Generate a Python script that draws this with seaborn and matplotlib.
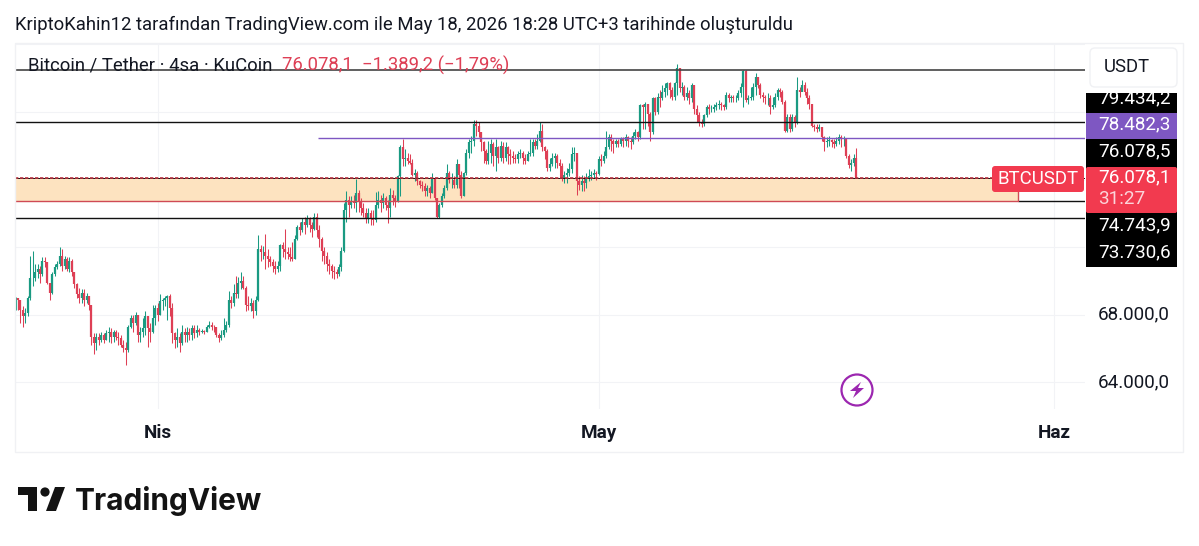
"""
BTC/USDT 4h candles with support and resistance levels
"""
import matplotlib.pyplot as plt
import matplotlib.patches as mpatches
import pandas as pd
import seaborn as sns

# Candle values
first_open = 68250
closes = [
    69000, 68900, 68300, 67900, 68100, 69000, 70200, 70200, 70500, 70700,
    70400, 71200, 71100, 69900, 69300, 70400, 70800, 71000, 71500, 70900,
    71300, 70700, 71200, 70500, 69800, 69200, 69000, 69300, 68900, 69100,
    68600, 66700, 66300, 66700, 66500, 66800, 66500, 66900, 67000, 66700,
    67000, 66700, 66600, 66200, 66000, 65900, 67300, 67800, 67500, 68000,
    66800, 67000, 67200, 67900, 67200, 67000, 67800, 68400, 68000, 68800,
    68900, 69000, 69100, 68400, 66900, 66500, 66700, 66300, 67000, 66800,
    67000, 66800, 67200, 66900, 67100, 67000, 67050, 66950, 67250, 67400,
    67300, 67250, 66800, 66600, 66800, 67100, 67400, 68900, 68700, 69300,
    69200, 69900, 70000, 69600, 68600, 68500, 68700, 68200, 68900, 71900,
    71700, 71700, 71500, 71300, 71100, 70900, 70700, 70900, 72100, 71900,
    71700, 71600, 71400, 71300, 72500, 73200, 73000, 73500, 73300, 73700,
    73300, 73100, 73800, 73000, 72500, 71800, 71500, 71000, 70900, 70600,
    70500, 70400, 70800, 71800, 74200, 74800, 74500, 74700, 74600, 75200,
    74700, 74300, 74000, 73700, 74000, 73700, 73600, 74500, 74800, 74600,
    74900, 74500, 74300, 75100, 74900, 74700, 76200, 77900, 77200, 77300,
    77100, 77000, 76300, 76400, 75900, 75700, 75600, 75300, 75500, 75200,
    76100, 74900, 73800, 74500, 75000, 75500, 76400, 76000, 76000, 75700,
    76900, 76300, 75000, 76400, 77600, 78200, 78300, 79300, 79200, 78800,
    78200, 77700, 77100, 77600, 78100, 77400, 77900, 77300, 78000, 77300,
    77900, 77500, 77400, 77300, 77200, 77500, 77600, 77300, 77100, 77500,
    77600, 78200, 78000, 78300, 78900, 77900, 77700, 76700, 76900, 77300,
    77400, 77000, 76800, 76100, 76300, 76400, 76600, 77500, 77600, 75900,
    75700, 75900, 75800, 76100, 76200, 76300, 76400, 76350, 77200, 77100,
    77400, 77900, 78500, 78300, 78100, 78300, 78100, 78400, 78300, 78500,
    78300, 78200, 78600, 78800, 78500, 80400, 80300, 80500, 79900, 78800,
    80800, 80000, 80900, 80800, 81200, 81400, 81700, 81300, 80900, 81700,
    82600, 81400, 81500, 80900, 81100, 80800, 81600, 80200, 79800, 79400,
    79300, 79800, 80300, 80200, 80200, 80300, 80400, 80500, 80400, 80300,
    81000, 80800, 80900, 80800, 80800, 81100, 81500, 82400, 80700, 80800,
    80900, 81500, 82100, 81600, 81000, 80900, 80800, 80800, 80300, 80400,
    80900, 81300, 81200, 80600, 78900, 79700, 79000, 79700, 79400, 81300,
    81200, 81600, 81200, 80800, 80500, 79200, 79100, 79000, 79100, 78500,
    78200, 78300, 78350, 78200, 78100, 78300, 78500, 78400, 78400, 77400,
    76850, 77000, 77300, 76078,
]
highs = [
    69050, 69000, 68900, 68500, 68400, 69100, 71500, 71800, 71000, 71000,
    70900, 71400, 71400, 71100, 69900, 70500, 71000, 71200, 72000, 71900,
    71500, 71400, 71400, 71300, 70500, 69900, 69600, 69500, 69500, 69300,
    69000, 68600, 66900, 66900, 66900, 67000, 66900, 67100, 67300, 67200,
    67100, 67100, 67000, 66800, 66500, 66400, 67400, 68000, 68000, 68150,
    68000, 67300, 67800, 68200, 67900, 67500, 68600, 68600, 68700, 69250,
    69000, 69100, 69150, 69200, 68700, 67000, 67200, 66900, 67400, 67200,
    67300, 67200, 67400, 67400, 67400, 67200, 67150, 67100, 67400, 67600,
    67550, 67400, 67300, 66900, 67100, 67800, 67600, 69400, 69100, 69800,
    70300, 70250, 70500, 70300, 69700, 69100, 69000, 68900, 69100, 72700,
    72100, 72050, 72800, 71900, 71500, 71300, 71200, 71200, 72200, 72300,
    73100, 72000, 72000, 72300, 72700, 73300, 73500, 73700, 73800, 73900,
    73800, 73500, 74000, 74000, 73300, 72600, 72000, 71700, 71300, 71000,
    70900, 70700, 71000, 72000, 74600, 75300, 75000, 75000, 75100, 76050,
    75400, 74900, 74600, 74300, 74300, 74200, 74200, 75250, 75300, 75100,
    75200, 75000, 74800, 75500, 75400, 75100, 76300, 78050, 78420, 77800,
    77600, 77500, 77200, 76600, 76500, 76000, 75900, 75800, 75700, 75600,
    76400, 76100, 74900, 74600, 75200, 75700, 76900, 76500, 76400, 76200,
    77200, 76900, 76500, 76450, 77800, 78400, 78600, 79500, 79500, 79400,
    78800, 78300, 77800, 78300, 78400, 78200, 78400, 78000, 78300, 78200,
    78200, 78000, 77800, 77700, 77500, 77700, 77800, 77700, 77500, 77700,
    78400, 78400, 78400, 78700, 79400, 79300, 78000, 77800, 77300, 77600,
    77600, 77500, 77200, 77000, 76500, 76700, 77000, 77900, 77900, 77500,
    76200, 76300, 76200, 76400, 76600, 76500, 76600, 76500, 77400, 77500,
    77700, 78900, 78700, 78700, 78400, 78400, 78400, 78500, 78500, 78700,
    78600, 78500, 78800, 79000, 78900, 80500, 80500, 80600, 80500, 80000,
    80900, 80900, 81100, 81300, 81600, 81700, 81800, 81800, 81500, 81800,
    82860, 82600, 81800, 81600, 81500, 81300, 81700, 81600, 80400, 80000,
    79600, 79900, 80400, 80500, 80400, 80500, 80600, 80700, 80600, 80500,
    81200, 81100, 81000, 81000, 81000, 81300, 81700, 82500, 82500, 81000,
    81500, 81700, 82300, 82100, 81700, 81200, 81000, 81100, 81000, 80900,
    81100, 81400, 81400, 81300, 80700, 79900, 79900, 79900, 79800, 82050,
    81500, 81900, 81800, 81400, 81000, 80500, 79300, 79300, 79300, 79100,
    78600, 78500, 78600, 78400, 78400, 78500, 78700, 78650, 78600, 78400,
    77500, 77200, 77500, 77850,
]
lows = [
    68250, 68300, 67500, 67300, 67500, 67900, 68900, 69700, 70000, 70200,
    69900, 70300, 70800, 69800, 68900, 69200, 70300, 70700, 70900, 70600,
    70700, 70600, 70500, 70300, 69600, 69000, 68700, 68700, 68500, 68700,
    68300, 66200, 65700, 65900, 66200, 66400, 66300, 66500, 66400, 66300,
    66400, 66500, 66200, 66100, 65800, 65000, 65800, 67200, 67000, 67400,
    66400, 66400, 66700, 66800, 66100, 66400, 66900, 67400, 67600, 68000,
    68300, 68500, 67700, 67900, 66300, 66000, 66100, 65800, 66200, 66400,
    66400, 66500, 66500, 66600, 66700, 66800, 66900, 66850, 67000, 67200,
    67100, 67000, 66700, 66400, 66500, 66700, 67000, 67300, 68400, 68500,
    69000, 69000, 69500, 69500, 68200, 68300, 68200, 67800, 68000, 68800,
    71200, 71300, 70700, 70800, 70900, 70500, 70400, 70500, 70600, 71400,
    71300, 71300, 71200, 71200, 71300, 72400, 72700, 72900, 72800, 73200,
    72900, 72600, 73000, 72600, 72000, 71200, 71000, 70600, 70400, 70200,
    70100, 70200, 70300, 70600, 71700, 73500, 73800, 74300, 74300, 74100,
    74100, 73900, 73800, 73400, 73400, 73300, 73300, 73500, 74300, 74100,
    74300, 74200, 73400, 73800, 74500, 74400, 74700, 75000, 76800, 76800,
    76900, 76900, 76200, 75900, 75700, 75500, 75300, 75000, 75000, 74900,
    75200, 74800, 73700, 73750, 74400, 74900, 75400, 75800, 75500, 75500,
    75500, 75500, 74900, 75000, 76300, 77300, 77600, 78000, 78600, 78500,
    77700, 77000, 76900, 76900, 77000, 76800, 76500, 77000, 77100, 77000,
    77100, 76900, 76900, 77000, 77000, 77000, 77300, 76900, 76900, 77100,
    77400, 77400, 77800, 77800, 78200, 77700, 77200, 76500, 76500, 76800,
    76700, 76700, 76100, 75900, 75800, 75800, 76200, 76400, 77100, 75060,
    75400, 75300, 75300, 75500, 75900, 76000, 76100, 76000, 76300, 76800,
    77000, 77300, 77800, 77700, 77600, 77900, 77900, 78000, 77900, 78000,
    77900, 77800, 78100, 78400, 78300, 78400, 79000, 79000, 79200, 78300,
    78700, 79800, 79900, 80300, 80700, 80900, 81000, 80800, 80700, 80700,
    81000, 81200, 81000, 80700, 80700, 80500, 80600, 79900, 79400, 79200,
    79100, 79200, 79700, 79900, 80000, 80000, 80100, 80200, 80100, 80100,
    80200, 80600, 80600, 80600, 80600, 80700, 80900, 80300, 80600, 80500,
    80700, 80700, 81000, 81400, 80800, 80600, 80500, 80400, 79900, 80200,
    80300, 80700, 80900, 80500, 78800, 78800, 78800, 78900, 79100, 79300,
    80900, 81300, 81000, 80500, 80200, 79100, 78900, 78800, 78900, 78300,
    77700, 77900, 78000, 77900, 77850, 78000, 78100, 77900, 78000, 77300,
    76700, 76500, 76800, 76078,
]

# Levels drawn on the chart
top_level = 82480
black_level = 79434.2
purple_level = 78482.3
zone_high = 76078.5
zone_low = 74743.9
support_level = 73730.6

price_ticks = [64000, 68000, 72000, 76000, 80000, 84000]
price_labels = ['64.000,0', '68.000,0', '', '', '', '']
month_ticks = ['2026-04-01 03:00', '2026-05-01 03:00', '2026-06-01 03:00']
month_labels = ['Nis', 'May', 'Haz']

UP = '#1a9a82'
DOWN = '#de3f55'
PURPLE = '#7e57c2'
TEXT = '#131722'

sns.set_theme(style='white')
plt.rcParams['font.family'] = ['Roboto', 'DejaVu Sans']
plt.rcParams['lines.solid_capstyle'] = 'butt'

# Table for seaborn: one row per end of each stick
times = pd.date_range('2026-03-22 11:00', periods=len(closes), freq='4h')
opens = [first_open] + closes[:-1]
candles = pd.DataFrame({'t': times, 'open': opens, 'close': closes, 'high': highs, 'low': lows})
candles['direction'] = ['up' if c >= o else 'down' for c, o in zip(closes, opens)]

wicks = candles.melt(id_vars=['t', 'direction'], value_vars=['low', 'high'], value_name='price')
bodies = candles.melt(id_vars=['t', 'direction'], value_vars=['open', 'close'], value_name='price')

W, H = 1199, 546
fig = plt.figure(figsize=(W / 100, H / 100), dpi=100)

# Chart pane in pixels: x 15-1085, y 43-409
ax = fig.add_axes([15 / W, 1 - 409 / H, 1070 / W, 366 / H])
ax.patch.set_alpha(0)
left, right = pd.Timestamp('2026-03-22 10:10'), pd.Timestamp('2026-06-03 04:48')
zone_end = pd.Timestamp('2026-05-29 15:25')
purple_start = pd.Timestamp('2026-04-12 00:30')

ax.fill_between([left, zone_end], zone_low, zone_high, color='#fde3c0', lw=0, zorder=1)

palette = {'up': UP, 'down': DOWN}
sns.lineplot(data=wicks, x='t', y='price', units='t', estimator=None, hue='direction',
             palette=palette, linewidth=0.75, legend=False, sort=False, ax=ax, zorder=2)
sns.lineplot(data=bodies, x='t', y='price', units='t', estimator=None, hue='direction',
             palette=palette, linewidth=1.6, legend=False, sort=False, ax=ax, zorder=2)

# Horizontal levels
ax.plot([left, right], [top_level, top_level], color='#444444', lw=1.2, zorder=3)
ax.plot([left, right], [black_level, black_level], color='#111111', lw=1.0, zorder=3)
ax.plot([purple_start, right], [purple_level, purple_level], color=PURPLE, lw=1.0, zorder=3)
ax.plot([left, right], [zone_high, zone_high], color='#111111', lw=0.7, zorder=3)
ax.plot([left, zone_end], [zone_high, zone_high], color='#b8323f', lw=1.2, ls=(0, (2, 1)), zorder=3)
ax.plot([zone_end, right], [zone_low, zone_low], color='#111111', lw=1.0, zorder=3)
ax.plot([left, zone_end, zone_end], [zone_low, zone_low, zone_high], color='#cf4a55', lw=1.0, zorder=3)
ax.plot([left, right], [support_level, support_level], color='#111111', lw=1.0, zorder=3)

ax.set_xlim(left, right)
ax.set_ylim(62418, 84085)
ax.set_xticks(pd.to_datetime(month_ticks))
ax.set_xticklabels(month_labels, fontsize=13.6, fontweight='bold', color=TEXT)
ax.yaxis.tick_right()
ax.set_yticks(price_ticks)
ax.set_yticklabels(price_labels, fontsize=13.6, color=TEXT, va='center')
ax.tick_params(axis='x', length=0, pad=11)
ax.tick_params(axis='y', length=0, pad=9)
ax.set_xlabel('')
ax.set_ylabel('')
ax.grid(True, color='#f2f3f6', lw=0.8)
ax.set_axisbelow(True)
sns.despine(ax=ax, left=True, bottom=True, right=True, top=True)

# Overlay in pixel coordinates for everything outside the price scale
ov = fig.add_axes([0, 0, 1, 1], zorder=5)
ov.set_xlim(0, W)
ov.set_ylim(H, 0)
ov.axis('off')
ov.patch.set_alpha(0)

ov.add_patch(mpatches.Rectangle((15, 43), 1168, 409, fill=False, ec='#f0f1f4', lw=1))

ov.text(15, 25, 'KriptoKahin12 tarafından TradingView.com ile May 18, 2026 18:28 UTC+3 tarihinde oluşturuldu',
        fontsize=13.3, color=TEXT, va='center', ha='left')
ov.text(28, 65.5, 'Bitcoin / Tether · 4sa · KuCoin', fontsize=13.3, color=TEXT, va='center')
ov.text(282, 65.5, '76.078,1  −1.389,2 (−1,79%)', fontsize=13.3, color=DOWN, va='center')

# USDT box
ov.add_patch(mpatches.FancyBboxPatch((1092, 50), 83, 35, boxstyle='round,pad=2,rounding_size=5',
                                     fc='white', ec='#f0f1f4', lw=1))
ov.text(1127, 67.5, 'USDT', fontsize=13.3, color=TEXT, ha='center', va='center')

# Price tags on the right scale
black_box = mpatches.Rectangle((1086, 93), 91, 174, fc='black', ec='none')
ov.add_patch(black_box)
ov.add_patch(mpatches.Rectangle((1086, 113), 91, 26, fc=PURPLE, ec='none'))
ov.add_patch(mpatches.FancyBboxPatch((1086, 167), 91, 46, boxstyle='round,pad=0,rounding_size=2',
                                     fc='#f23a4f', ec='none'))
clip_tag = ov.text(1134.5, 98, '79.434,2', fontsize=13.6, color='white', ha='center', va='center')
clip_tag.set_clip_path(black_box)
ov.text(1134.5, 124.5, '78.482,3', fontsize=13.6, color='white', ha='center', va='center')
ov.text(1134.5, 151, '76.078,5', fontsize=13.6, color='white', ha='center', va='center')
ov.text(1134.5, 177, '76.078,1', fontsize=13.6, color='white', ha='center', va='center')
ov.text(1098, 199, '31:27', fontsize=13.6, color='#fbd5da', ha='left', va='center')
ov.text(1134.5, 225, '74.743,9', fontsize=13.6, color='white', ha='center', va='center')
ov.text(1134.5, 252, '73.730,6', fontsize=13.6, color='white', ha='center', va='center')

ov.add_patch(mpatches.FancyBboxPatch((992, 166), 92, 26, boxstyle='round,pad=0,rounding_size=3',
                                     fc='#f23a4f', ec='none'))
ov.text(1038, 179.5, 'BTCUSDT', fontsize=13.4, color='white', ha='center', va='center')

# Lightning badge
ov.add_patch(mpatches.Circle((857, 390), 15.5, fill=False, ec='#9c27b0', lw=1.6))
ov.add_patch(mpatches.Polygon([(861, 382), (850, 391), (856, 391), (853, 398), (864, 388), (858, 388)],
                              fc='#9c27b0', ec='none'))

# TradingView logo
ov.add_patch(mpatches.Polygon([(18, 487), (37, 487), (37, 511), (28, 511), (28, 495), (18, 495)],
                              fc='#131313', ec='none'))
ov.add_patch(mpatches.Circle((45, 492), 4.6, fc='#131313', ec='none'))
ov.add_patch(mpatches.Polygon([(55, 487), (65, 487), (56, 511), (46, 511)], fc='#131313', ec='none'))
ov.text(75, 501, 'TradingView', fontsize=21.5, fontweight='bold', color='#131313',
        family=['Inter', 'DejaVu Sans'], va='center', ha='left')

plt.savefig('out.png', dpi=100)
plt.close()
